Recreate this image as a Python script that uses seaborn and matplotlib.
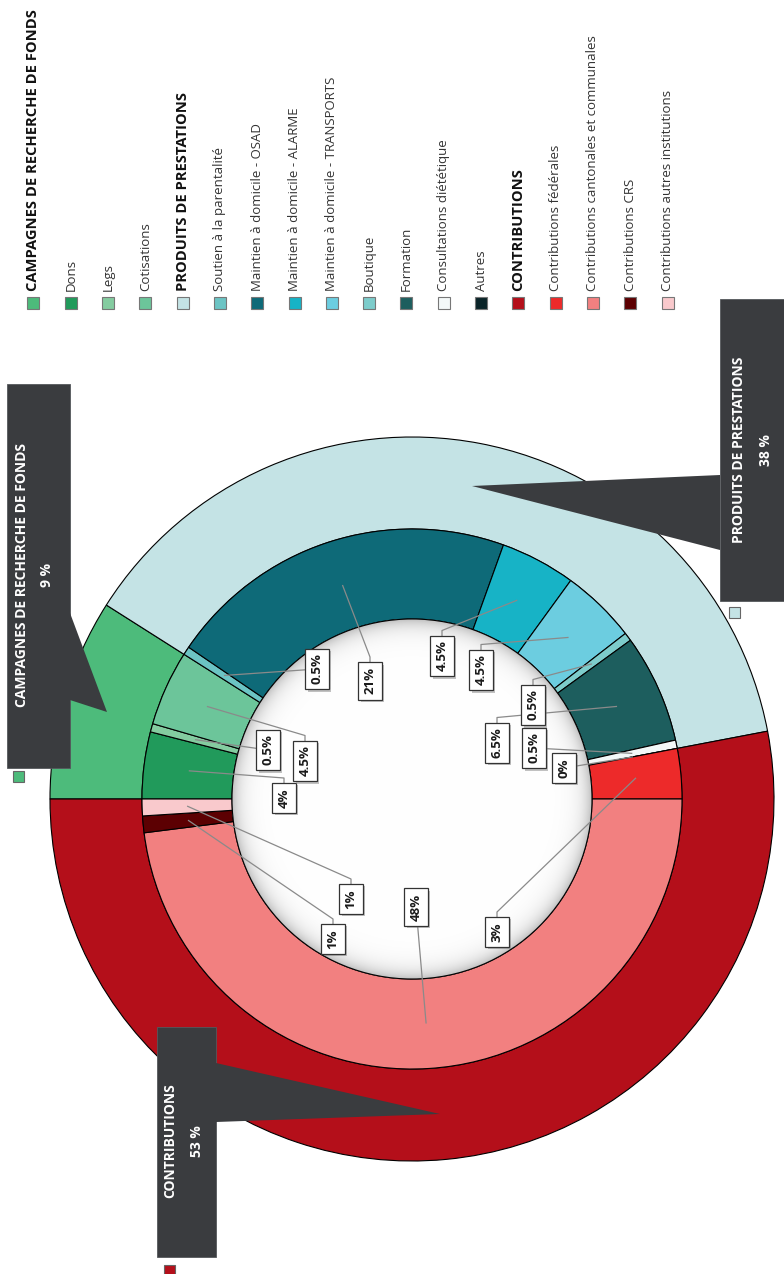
import numpy as np
import matplotlib
matplotlib.use("Agg")
import matplotlib.pyplot as plt
import matplotlib.patheffects as pe
from matplotlib.patches import Rectangle, Polygon, Circle
import seaborn as sns

# ---------------- data ----------------
groups = ["CAMPAGNES DE RECHERCHE DE FONDS", "PRODUITS DE PRESTATIONS", "CONTRIBUTIONS"]
group_values = [9, 38, 53]
group_pct_text = ["9 %", "38 %", "53 %"]
group_colors = ["#4dbb7b", "#c4e3e5", "#b40f1a"]

items = ["Dons", "Legs", "Cotisations",
         "Soutien à la parentalité", "Maintien à domicile - OSAD",
         "Maintien à domicile - ALARME", "Maintien à domicile - TRANSPORTS",
         "Boutique", "Formation", "Consultations diététique", "Autres",
         "Contributions fédérales", "Contributions cantonales et communales",
         "Contributions CRS", "Contributions autres institutions"]
item_values = [4, 0.5, 4.5, 0.5, 21, 4.5, 4.5, 0.5, 6.5, 0.5, 0, 3, 48, 1, 1]
item_labels = ["4%", "0.5%", "4.5%", "0.5%", "21%", "4.5%", "4.5%", "0.5%",
               "6.5%", "0.5%", "0%", "3%", "48%", "1%", "1%"]
item_group = [0, 0, 0, 1, 1, 1, 1, 1, 1, 1, 1, 2, 2, 2, 2]
item_colors = ["#219a5b", "#84cca0", "#6cc59a",
               "#6cc4c4", "#0e6a78", "#17b3c6", "#6ccde0", "#7dcccb",
               "#1d5e5e", "#f3f8f8", "#0a2428",
               "#ed2a2a", "#f28080", "#5c0002", "#f9c9cc"]

# ---------------- layout (image pixel coordinates) ----------------
W, H = 784, 1274
CX, CY = 412, 799
R_OUT, R_MID, R_IN = 362, 270, 180
R_LEADER = 225

label_pos = [(284, 798), (268, 750), (305, 761), (317, 669), (370, 681),
             (442, 656), (481, 670), (533, 705), (497, 743), (534, 748),
             (564, 768), (497, 932), (416, 907), (333, 939), (351, 899)]
label_mode = ["top", "left", "top", "left", "top", "top", "top", "top", "top",
              "right", "right", "top", "bottom", "top", "top"]

callout_rects = [(7, 384, 63, 384), (720, 299, 70, 302), (157, 1027, 59, 230)]
callout_tips = [[(70, 613), (107, 712), (70, 700)],
                [(720, 475), (472, 486), (720, 550)],
                [(216, 1063), (440, 1114), (216, 1122)]]
callout_text_x = [(22, 47), (739, 766), (170, 197)]
callout_text_y = [575, 450, 1141]
callout_sq = [(19, 776), (735, 612), (170, 1270)]

legend_x0, legend_dx, legend_sq_y = 33.5, 37.3, 303

sns.set_theme(style="white")
plt.rcParams["font.family"] = ["Open Sans", "DejaVu Sans"]

fig = plt.figure(figsize=(W / 100, H / 100), dpi=100)
ax = fig.add_axes([0, 0, 1, 1])


def P(x, y):
    return (x, H - y)


center = P(CX, CY)
wp = dict(edgecolor="black", linewidth=0.8)
ax.pie(group_values, radius=R_OUT, center=center, startangle=180,
       counterclock=False, colors=group_colors,
       wedgeprops=dict(width=R_OUT - R_MID, **wp))
ax.pie(item_values, radius=R_MID, center=center, startangle=180,
       counterclock=False, colors=item_colors,
       wedgeprops=dict(width=R_MID - R_IN, **wp))

# hole with soft inner shadow
hole = Circle(center, R_IN, facecolor="white", edgecolor="none", zorder=3)
ax.add_patch(hole)
n = 400
g = np.linspace(-R_IN, R_IN, n)
xx, yy = np.meshgrid(g, g)
d = R_IN - np.sqrt(xx ** 2 + yy ** 2)
shade = 1 - 0.24 * np.exp(-np.clip(d, 0, None) / 9.0)
img = np.dstack([shade, shade, shade])
im = ax.imshow(img, extent=(center[0] - R_IN, center[0] + R_IN,
                            center[1] - R_IN, center[1] + R_IN),
               origin="lower", zorder=3.2, interpolation="bilinear")
im.set_clip_path(hole)
ax.add_patch(Circle(center, R_IN, facecolor="none", edgecolor="black",
                    linewidth=0.8, zorder=3.4))

# leaders and labels
cum = np.concatenate([[0], np.cumsum(item_values)[:-1]])
total = sum(item_values)
for i, v in enumerate(item_values):
    ang = np.deg2rad(180 - 360 * (cum[i] + v / 2) / total)
    sx = center[0] + R_LEADER * np.cos(ang)
    sy = center[1] + R_LEADER * np.sin(ang)
    bx, by = label_pos[i]
    txt = item_labels[i]
    est = 10 + 8 * len(txt.replace(".", "")) + 3 * txt.count(".")
    if label_mode[i] == "top":
        ex, ey = P(bx, by - est / 2 - 7)
        xs, ys = [sx, ex, ex], [sy, ey, P(bx, by)[1]]
    else:
        xs, ys = [sx, P(bx, by)[0]], [sy, P(bx, by)[1]]
    ax.plot(xs, ys, color="#8a8a8a", lw=0.9, zorder=4, solid_capstyle="butt")
    t = ax.text(*P(bx, by), txt, rotation=90, ha="center", va="center",
                fontsize=9.5, fontweight="bold", color="#1a1a1a", zorder=6,
                bbox=dict(boxstyle="square,pad=0.38", facecolor="white",
                          edgecolor="#333333", linewidth=0.9))
    t.get_bbox_patch().set_path_effects(
        [pe.withSimplePatchShadow(offset=(1.5, -1.5), shadow_rgbFace="#777777", alpha=0.45)])

# callouts
box_col = "#3a3c3f"
for k in range(3):
    x, y, w, h = callout_rects[k]
    ax.add_patch(Rectangle(P(x, y + h), w, h, facecolor=box_col,
                           edgecolor="#55585c", linewidth=0.6, zorder=7))
    ax.add_patch(Polygon([P(*p) for p in callout_tips[k]], closed=True,
                         facecolor=box_col, edgecolor="none", zorder=7))
    ax.text(*P(callout_text_x[k][0], callout_text_y[k]), groups[k], rotation=90,
            ha="center", va="center", color="white", fontsize=10,
            fontweight="bold", zorder=8)
    ax.text(*P(callout_text_x[k][1], callout_text_y[k]), group_pct_text[k],
            rotation=90, ha="center", va="center", color="white",
            fontsize=10, fontweight="bold", zorder=8)
    sx_, sy_ = callout_sq[k]
    ax.add_patch(Rectangle(P(sx_ - 5.5, sy_ + 5.5), 11, 11,
                           facecolor=group_colors[k], edgecolor="#666666",
                           linewidth=0.8, zorder=7))

# legend
entries = []
for gi, gname in enumerate(groups):
    entries.append((gname, group_colors[gi], True))
    for i, it in enumerate(items):
        if item_group[i] == gi:
            entries.append((it, item_colors[i], False))
for j, (name, col, bold) in enumerate(entries):
    lx = legend_x0 + legend_dx * j
    ax.add_patch(Rectangle(P(lx - 6, legend_sq_y + 6), 12, 12, facecolor=col,
                           edgecolor="#777777", linewidth=0.8, zorder=7))
    ax.text(*P(lx, legend_sq_y - 12), name, rotation=90,
            rotation_mode="anchor", ha="left", va="center",
            fontsize=10.6 if bold else 9.5, fontweight="bold" if bold else "normal",
            color="#111111" if bold else "#333333", zorder=7)

ax.set_xlim(0, W)
ax.set_ylim(0, H)
ax.set_aspect("equal")
ax.axis("off")
fig.savefig("out.png", dpi=100, facecolor="white")
